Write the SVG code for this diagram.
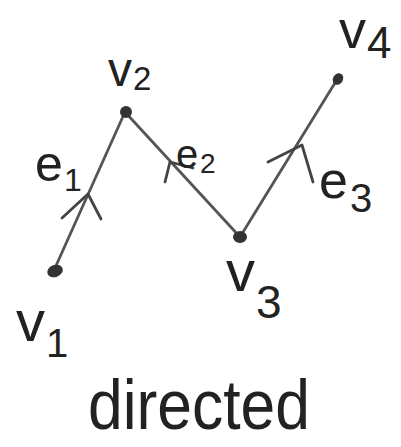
<svg xmlns="http://www.w3.org/2000/svg" width="401" height="447" viewBox="0 0 401 447">
<style>
.edge{stroke:#555;stroke-width:2.8;fill:none;stroke-linecap:round}
.head{stroke:#444;stroke-width:2.8;fill:none;stroke-linecap:round;stroke-linejoin:round}
.node{fill:#333}
.t{font-family:"Liberation Sans",Arial,sans-serif;fill:#222}
</style>
<rect width="401" height="447" fill="#fff"/>
<g id="edges">
  <g id="e1-edge">
    <line class="edge" x1="55" y1="268" x2="125" y2="112"/>
    <polyline class="head" points="62,218 88,194 101,219"/>
  </g>
  <g id="e2-edge">
    <line class="edge" x1="125" y1="112" x2="240" y2="237"/>
    <polyline class="head" points="165,182 170,162 193,168"/>
  </g>
  <g id="e3-edge">
    <line class="edge" x1="240" y1="237" x2="338" y2="78"/>
    <polyline class="head" points="268,162 302,145 313,182"/>
  </g>
</g>
<g id="v1"><ellipse class="node" cx="55" cy="271" rx="8" ry="6" transform="rotate(-20 55 271)"/>
  <text class="t" x="16" y="341" font-size="58">v</text><text class="t" x="46" y="357" font-size="40">1</text></g>
<g id="v2"><ellipse class="node" cx="126" cy="112" rx="6" ry="6"/>
  <text class="t" x="108" y="86" font-size="48">v</text><text class="t" x="133" y="90" font-size="33">2</text></g>
<g id="v3"><ellipse class="node" cx="240" cy="237" rx="7" ry="6"/>
  <text class="t" x="226" y="291" font-size="58">v</text><text class="t" x="256" y="318" font-size="46">3</text></g>
<g id="v4"><ellipse class="node" cx="338" cy="79" rx="5" ry="6" transform="rotate(30 338 79)"/>
  <text class="t" x="339" y="48" font-size="54">v</text><text class="t" x="367" y="58" font-size="44">4</text></g>
<g id="e1"><text class="t" x="35" y="181" font-size="50">e</text><text class="t" x="64" y="191" font-size="32">1</text></g>
<g id="e2"><text class="t" x="176" y="168" font-size="40">e</text><text class="t" x="200" y="173" font-size="28">2</text></g>
<g id="e3"><text class="t" x="319" y="198" font-size="52">e</text><text class="t" x="350" y="212" font-size="40">3</text></g>
<text id="caption" class="t" x="88" y="429" font-size="70" textLength="222" lengthAdjust="spacingAndGlyphs">directed</text>
</svg>
